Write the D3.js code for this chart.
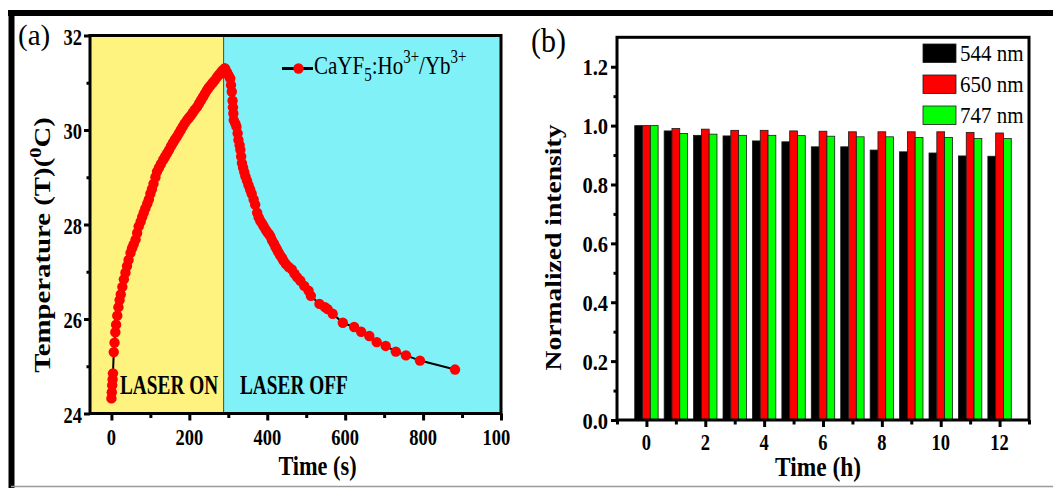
<!DOCTYPE html>
<html><head><meta charset="utf-8">
<script src="https://cdn.jsdelivr.net/npm/d3@7"></script>
<style>body{margin:0;background:#fff} svg{display:block}</style>
</head><body><svg id="chart" width="1053" height="488"></svg>
<script>
// ---------- Panel (a) data: temperature vs time ----------
const timeS = [0,1,2,3,4,6,8,10,12,15,18,21,24,28,32,36,40,44,49,53,57,62,66,70,75,79,83,87,92,96,100,104,108,113,117,122,127,133,138,143,148,153,158,163,168,173,178,183,188,194,199,204,209,214,220,225,230,235,240,245,250,255,260,265,271,276,281,285,290,
  292,297,301,305,307,309,311,312,313,314,318,321,324,326,329,331,333,335,338,341,344,348,352,356,360,365,369,374,378,382,387,391,396,400,404,408,412,417,421,425,429,433,438,442,448,455,463,470,477,485,495,506,512,534,548,555,568,594,623,641,662,681,704,730,756,792,882];
const tempC = [24.32,24.45,24.6,24.72,24.85,25.3,25.5,25.72,25.88,26.07,26.25,26.4,26.52,26.68,26.84,26.98,27.12,27.25,27.4,27.5,27.58,27.68,27.82,27.96,28.06,28.16,28.25,28.34,28.44,28.53,28.65,28.75,28.86,29.0,29.12,29.2,29.28,29.37,29.44,29.51,29.58,29.66,29.73,29.8,29.86,29.93,30.0,30.07,30.14,30.21,30.26,30.31,30.37,30.43,30.49,30.56,30.63,30.7,30.77,30.84,30.9,30.95,31.0,31.05,31.12,31.17,31.22,31.26,31.3,
  31.3,31.22,31.15,31.09,30.95,30.81,30.62,30.48,30.35,30.21,30.14,30.07,29.93,29.79,29.68,29.58,29.44,29.3,29.2,29.11,29.02,28.93,28.83,28.74,28.65,28.53,28.42,28.25,28.15,28.08,28.02,27.96,27.89,27.84,27.8,27.75,27.67,27.6,27.53,27.47,27.41,27.35,27.29,27.23,27.16,27.1,27.05,26.96,26.88,26.81,26.7,26.6,26.49,26.32,26.25,26.21,26.11,25.92,25.83,25.73,25.64,25.51,25.43,25.31,25.23,25.12,24.93];
const laserOffTime = 288;
const xTicksA = [0,200,400,600,800,1000];
const xMinorA = [100,300,500,700,900];
const yTicksA = [24,26,28,30,32];
const yMinorA = [25,27,29,31];

// ---------- Panel (b) data: normalized intensity vs time ----------
const hours = [0,1,2,3,4,5,6,7,8,9,10,11,12];
const int544 = [1.0,0.982,0.967,0.965,0.948,0.945,0.928,0.928,0.917,0.911,0.907,0.897,0.896];
const int650 = [1.0,0.990,0.988,0.984,0.984,0.982,0.981,0.979,0.979,0.979,0.979,0.977,0.975];
const int747 = [1.0,0.973,0.971,0.967,0.967,0.966,0.964,0.962,0.962,0.960,0.960,0.956,0.956];
const seriesNames = ["544 nm","650 nm","747 nm"];
const seriesColors = ["#000000","#ff0000","#00ff00"];
const xTicksB = [0,2,4,6,8,10,12];
const xMinorB = [-1,1,3,5,7,9,11,13];
const yTicksB = [0,0.2,0.4,0.6,0.8,1.0,1.2];
const yMinorB = [0.1,0.3,0.5,0.7,0.9,1.1];

const SERIF = "'Liberation Serif','Times New Roman',serif";
const svg = d3.select("#chart");

function txt(g, x, y, s, o) {
  return g.append("text")
    .attr("transform", `translate(${x},${y})${o.rot ? ` rotate(${o.rot})` : ""} scale(${o.sx || 1},${o.sy || 1})`)
    .attr("font-family", SERIF).attr("font-size", o.size)
    .attr("font-weight", o.bold ? "bold" : "normal")
    .attr("text-anchor", o.anchor || "start")
    .attr("fill", "#000")
    .text(s);
}
function tickLines(g, axis) {
  g.call(axis);
  g.select(".domain").remove();
  g.selectAll(".tick line").attr("stroke", "#000").attr("stroke-width", 3);
  g.selectAll(".tick text").remove();
}

// ---------- outer frame ----------
svg.append("rect").attr("width", 1053).attr("height", 488).attr("fill", "#fff");
svg.append("line").attr("x1", 8).attr("x2", 1053).attr("y1", 13).attr("y2", 13).attr("stroke", "#000").attr("stroke-width", 6);
svg.append("line").attr("x1", 11.5).attr("x2", 11.5).attr("y1", 10).attr("y2", 488).attr("stroke", "#000").attr("stroke-width", 6);
svg.append("line").attr("x1", 11).attr("x2", 1053).attr("y1", 486.5).attr("y2", 486.5).attr("stroke", "#9a9a9a").attr("stroke-width", 1.5);

// ================= Panel (a) =================
const xA = d3.scaleLinear([-55, 1000], [90, 501]);
const yA = d3.scaleLinear([24, 32], [413.5, 35.5]);
const gA = svg.append("g");

gA.append("rect").attr("x", xA(-55)).attr("y", yA(32)).attr("width", xA(laserOffTime) - xA(-55)).attr("height", yA(24) - yA(32)).attr("fill", "#fdf37e");
gA.append("rect").attr("x", xA(laserOffTime)).attr("y", yA(32)).attr("width", xA(1000) - xA(laserOffTime)).attr("height", yA(24) - yA(32)).attr("fill", "#80f1f7");
gA.append("line").attr("x1", xA(laserOffTime)).attr("x2", xA(laserOffTime)).attr("y1", yA(32)).attr("y2", yA(24)).attr("stroke", "#4a4a3a").attr("stroke-width", 1);

txt(gA, 120, 394, "LASER ON", {size: 19.3, bold: true, sy: 1.4});
txt(gA, 240, 394, "LASER OFF", {size: 19.3, bold: true, sy: 1.4});

const ptsA = timeS.map((t, i) => ({t, T: tempC[i]}));
gA.append("path").datum(ptsA)
  .attr("d", d3.line().x(d => xA(d.t)).y(d => yA(d.T)))
  .attr("fill", "none").attr("stroke", "#000").attr("stroke-width", 2);
gA.selectAll("circle.pt").data(ptsA).join("circle").attr("class", "pt")
  .attr("cx", d => xA(d.t)).attr("cy", d => yA(d.T)).attr("r", 5.2).attr("fill", "#ff0000");

// legend (a)
gA.append("line").attr("x1", 282).attr("x2", 313).attr("y1", 68.5).attr("y2", 68.5).attr("stroke", "#000").attr("stroke-width", 3);
gA.append("circle").attr("cx", 298.5).attr("cy", 68.5).attr("r", 5.2).attr("fill", "#ff0000");
{
  const t = txt(gA, 314, 73.5, "", {size: 21, sy: 1.2});
  t.append("tspan").text("CaYF");
  t.append("tspan").attr("font-size", 15).attr("dy", 6).text("5");
  t.append("tspan").attr("dy", -6).text(":Ho");
  t.append("tspan").attr("font-size", 15).attr("dy", -9).text("3+");
  t.append("tspan").attr("dy", 9).text("/Yb");
  t.append("tspan").attr("font-size", 15).attr("dy", -9).text("3+");
}

// axes (a)
tickLines(gA.append("g").attr("transform", `translate(0,${yA(24)})`), d3.axisBottom(xA).tickValues(xTicksA).tickSize(7));
tickLines(gA.append("g").attr("transform", `translate(0,${yA(24)})`), d3.axisBottom(xA).tickValues(xMinorA).tickSize(4.5));
tickLines(gA.append("g").attr("transform", `translate(${xA(-55)},0)`), d3.axisLeft(yA).tickValues(yTicksA).tickSize(6));
tickLines(gA.append("g").attr("transform", `translate(${xA(-55)},0)`), d3.axisLeft(yA).tickValues(yMinorA).tickSize(3.5));
gA.append("rect").attr("x", xA(-55)).attr("y", yA(32)).attr("width", xA(1000) - xA(-55)).attr("height", yA(24) - yA(32))
  .attr("fill", "none").attr("stroke", "#000").attr("stroke-width", 3);

svg.append("clipPath").attr("id", "clipA").append("rect").attr("x", 0).attr("y", 0).attr("width", 510).attr("height", 488);
const labA = gA.append("g").attr("clip-path", "url(#clipA)");
xTicksA.forEach(v => txt(labA, xA(v), 445, String(v), {size: 18.5, bold: true, anchor: "middle", sy: 1.2}));
yTicksA.forEach(v => txt(gA, 82, yA(v) + 9, String(v), {size: 18.5, bold: true, anchor: "end", sy: 1.2}));

txt(gA, 317.5, 475, "Time (s)", {size: 22.3, bold: true, anchor: "middle", sy: 1.2});
{
  const t = txt(gA, 50, 245, "", {size: 24, bold: true, anchor: "middle", rot: -90, sx: 1.2});
  t.append("tspan").text("Temperature (T)(");
  t.append("tspan").attr("font-size", 17).attr("dy", -9).text("0");
  t.append("tspan").attr("dy", 9).text("C)");
}
txt(gA, 18, 45, "(a)", {size: 29});

// ================= Panel (b) =================
const xB = d3.scaleLinear([-1, 13], [617, 1029]);
const yB = d3.scaleLinear([0, 1.3], [420, 37.3]);
const gB = svg.append("g");
const barW = 0.265;
const seriesVals = [int544, int650, int747];
seriesVals.forEach((vals, si) => {
  gB.selectAll(`rect.s${si}`).data(hours).join("rect").attr("class", `s${si}`)
    .attr("x", h => xB(h + (si - 1) * barW - barW / 2))
    .attr("width", xB(barW) - xB(0))
    .attr("y", (h, i) => yB(vals[i]))
    .attr("height", (h, i) => yB(0) - yB(vals[i]))
    .attr("fill", seriesColors[si]).attr("stroke", "#1a1a1a").attr("stroke-width", 0.8);
});

tickLines(gB.append("g").attr("transform", `translate(0,${yB(0)})`), d3.axisBottom(xB).tickValues(xTicksB).tickSize(7));
tickLines(gB.append("g").attr("transform", `translate(0,${yB(0)})`), d3.axisBottom(xB).tickValues(xMinorB).tickSize(4.5));
tickLines(gB.append("g").attr("transform", `translate(${xB(-1)},0)`), d3.axisLeft(yB).tickValues(yTicksB).tickSize(6));
tickLines(gB.append("g").attr("transform", `translate(${xB(-1)},0)`), d3.axisLeft(yB).tickValues(yMinorB).tickSize(3.5));
gB.append("rect").attr("x", xB(-1)).attr("y", yB(1.3)).attr("width", xB(13) - xB(-1)).attr("height", yB(0) - yB(1.3))
  .attr("fill", "none").attr("stroke", "#000").attr("stroke-width", 3);

xTicksB.forEach(v => txt(gB, xB(v), 449.5, String(v), {size: 18.5, bold: true, anchor: "middle", sy: 1.2}));
yTicksB.forEach(v => txt(gB, 608, yB(v) + 8.5, d3.format(".1f")(v), {size: 20.5, bold: true, anchor: "end", sy: 1.1}));

txt(gB, 818, 475.5, "Time (h)", {size: 23.4, bold: true, anchor: "middle", sy: 1.15});
txt(gB, 561, 247.5, "Normalized intensity", {size: 23, bold: true, anchor: "middle", rot: -90, sx: 1.2});
txt(gB, 531, 52, "(b)", {size: 30, sy: 1.1});

// legend (b)
seriesNames.forEach((name, i) => {
  const y0 = 44 + i * 31;
  gB.append("rect").attr("x", 923).attr("y", y0).attr("width", 33).attr("height", 18.5)
    .attr("fill", seriesColors[i]).attr("stroke", "#1a1a1a").attr("stroke-width", 0.8);
  txt(gB, 960, y0 + 16.5, name, {size: 21, sy: 1.12});
});
</script></body></html>
